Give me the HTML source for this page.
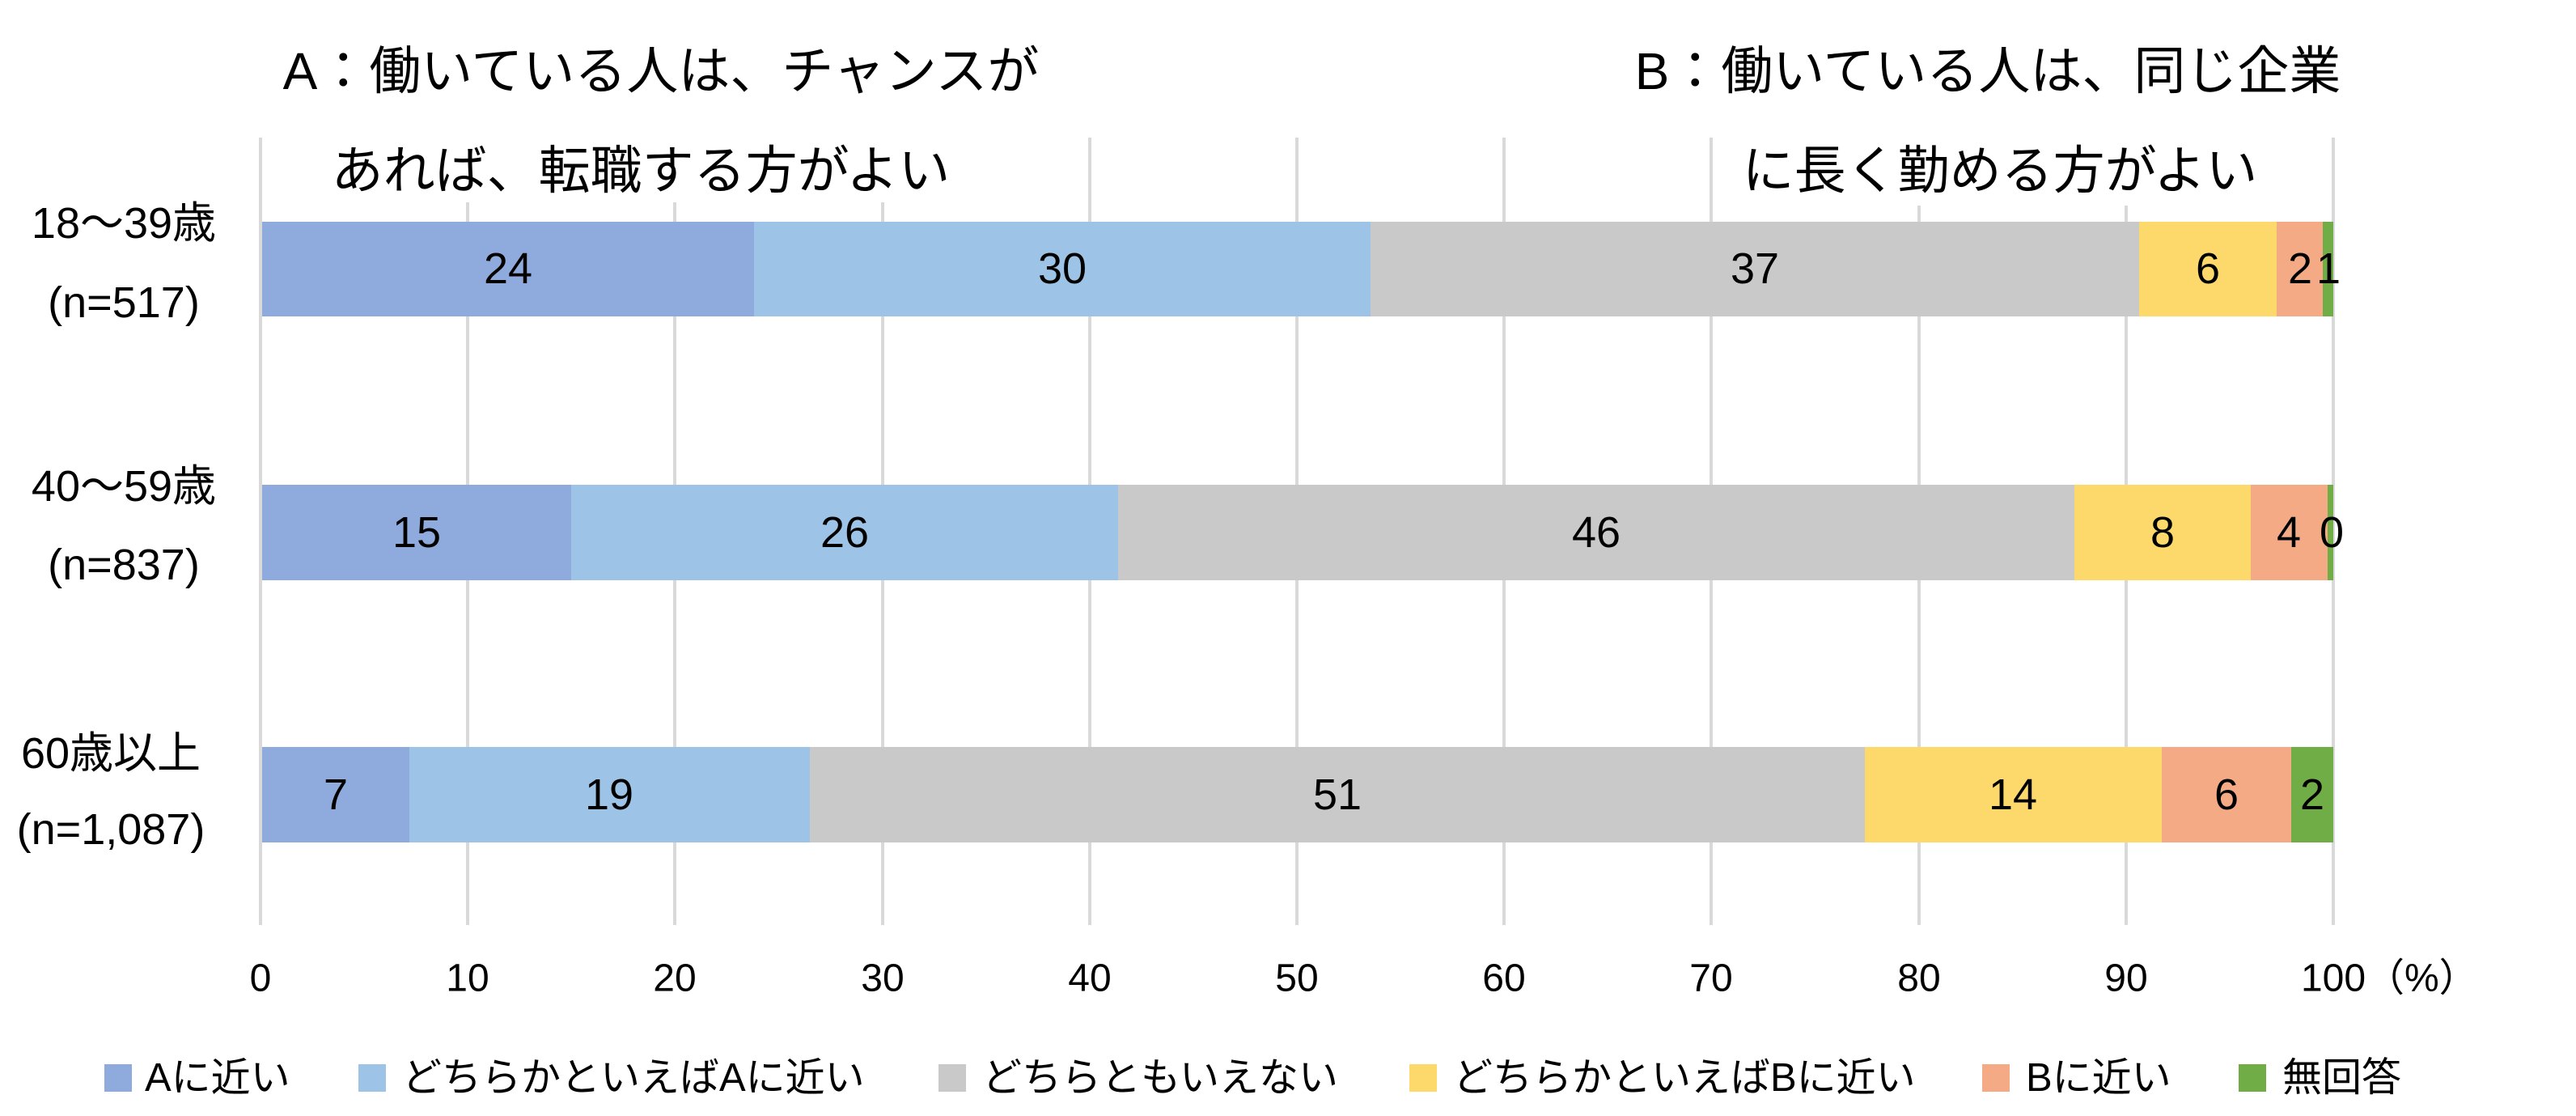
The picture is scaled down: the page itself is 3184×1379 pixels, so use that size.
<!DOCTYPE html>
<html><head><meta charset="utf-8"><style>
html,body{margin:0;padding:0;background:#fff;}
svg{display:block;}
text{font-family:"Liberation Sans","Noto Sans CJK JP",sans-serif;fill:#000;}
</style></head><body>
<svg width="3184" height="1379" viewBox="0 0 3184 1379" xmlns="http://www.w3.org/2000/svg">
<rect width="3184" height="1379" fill="#fff"/>
<g stroke="#D9D9D9" stroke-width="4">
<line x1="322" y1="170" x2="322" y2="1143"/>
<line x1="578" y1="170" x2="578" y2="1143"/>
<line x1="834" y1="170" x2="834" y2="1143"/>
<line x1="1091" y1="170" x2="1091" y2="1143"/>
<line x1="1347" y1="170" x2="1347" y2="1143"/>
<line x1="1603" y1="170" x2="1603" y2="1143"/>
<line x1="1859" y1="170" x2="1859" y2="1143"/>
<line x1="2115" y1="170" x2="2115" y2="1143"/>
<line x1="2372" y1="170" x2="2372" y2="1143"/>
<line x1="2628" y1="170" x2="2628" y2="1143"/>
<line x1="2884" y1="170" x2="2884" y2="1143"/>
</g>
<rect x="400" y="170" width="800" height="80" fill="#fff"/>
<rect x="2130" y="170" width="690" height="84" fill="#fff"/>
<g font-size="64" text-anchor="middle" dominant-baseline="central">
<text x="817" y="88">A：働いている人は、チャンスが</text>
<text x="792" y="211">あれば、転職する方がよい</text>
<text x="2457" y="88">B：働いている人は、同じ企業</text>
<text x="2472" y="211">に長く勤める方がよい</text>
</g>
<g>
<rect x="324" y="274" width="608" height="117" fill="#8FAADC"/>
<rect x="932" y="274" width="762" height="117" fill="#9DC3E6"/>
<rect x="1694" y="274" width="950" height="117" fill="#C9C9C9"/>
<rect x="2644" y="274" width="170" height="117" fill="#FDD86A"/>
<rect x="2814" y="274" width="57" height="117" fill="#F4AA84"/>
<rect x="2871" y="274" width="13" height="117" fill="#70AD47"/>
<rect x="324" y="599" width="382" height="118" fill="#8FAADC"/>
<rect x="706" y="599" width="676" height="118" fill="#9DC3E6"/>
<rect x="1382" y="599" width="1182" height="118" fill="#C9C9C9"/>
<rect x="2564" y="599" width="218" height="118" fill="#FDD86A"/>
<rect x="2782" y="599" width="95" height="118" fill="#F4AA84"/>
<rect x="2877" y="599" width="7" height="118" fill="#70AD47"/>
<rect x="324" y="923" width="182" height="118" fill="#8FAADC"/>
<rect x="506" y="923" width="495" height="118" fill="#9DC3E6"/>
<rect x="1001" y="923" width="1304" height="118" fill="#C9C9C9"/>
<rect x="2305" y="923" width="367" height="118" fill="#FDD86A"/>
<rect x="2672" y="923" width="160" height="118" fill="#F4AA84"/>
<rect x="2832" y="923" width="52" height="118" fill="#70AD47"/>
</g>
<g font-size="54" text-anchor="middle" dominant-baseline="central">
<text x="628" y="332">24</text><text x="1313" y="332">30</text><text x="2169" y="332">37</text><text x="2729" y="332">6</text><text x="2843" y="332">2</text><text x="2878" y="332">1</text>
<text x="515" y="658">15</text><text x="1044" y="658">26</text><text x="1973" y="658">46</text><text x="2673" y="658">8</text><text x="2829" y="658">4</text><text x="2882" y="658">0</text>
<text x="415" y="982">7</text><text x="753" y="982">19</text><text x="1653" y="982">51</text><text x="2488" y="982">14</text><text x="2752" y="982">6</text><text x="2858" y="982">2</text>
</g>
<g font-size="54" text-anchor="middle" dominant-baseline="central">
<text x="153" y="276">18〜39歳</text><text x="153" y="374">(n=517)</text>
<text x="153" y="601">40〜59歳</text><text x="153" y="698">(n=837)</text>
<text x="137" y="931">60歳以上</text><text x="137" y="1025">(n=1,087)</text>
</g>
<g font-size="48" text-anchor="middle" dominant-baseline="central">
<text x="322" y="1209">0</text><text x="578" y="1209">10</text><text x="834" y="1209">20</text><text x="1091" y="1209">30</text><text x="1347" y="1209">40</text><text x="1603" y="1209">50</text><text x="1859" y="1209">60</text><text x="2115" y="1209">70</text><text x="2372" y="1209">80</text><text x="2628" y="1209">90</text><text x="2884" y="1209">100</text>
</g>
<text x="2924" y="1209" font-size="48" dominant-baseline="central">（%）</text>
<g>
<rect x="129" y="1315" width="34" height="34" fill="#8FAADC"/>
<rect x="443" y="1315" width="34" height="34" fill="#9DC3E6"/>
<rect x="1160" y="1315" width="34" height="34" fill="#C9C9C9"/>
<rect x="1742" y="1315" width="34" height="34" fill="#FDD86A"/>
<rect x="2450" y="1315" width="34" height="34" fill="#F4AA84"/>
<rect x="2767" y="1315" width="34" height="34" fill="#70AD47"/>
</g>
<g font-size="49" dominant-baseline="central">
<text x="179" y="1332">Aに近い</text>
<text x="497" y="1332">どちらかといえばAに近い</text>
<text x="1214" y="1332">どちらともいえない</text>
<text x="1796" y="1332">どちらかといえばBに近い</text>
<text x="2504" y="1332">Bに近い</text>
<text x="2821" y="1332">無回答</text>
</g>
</svg>
</body></html>
